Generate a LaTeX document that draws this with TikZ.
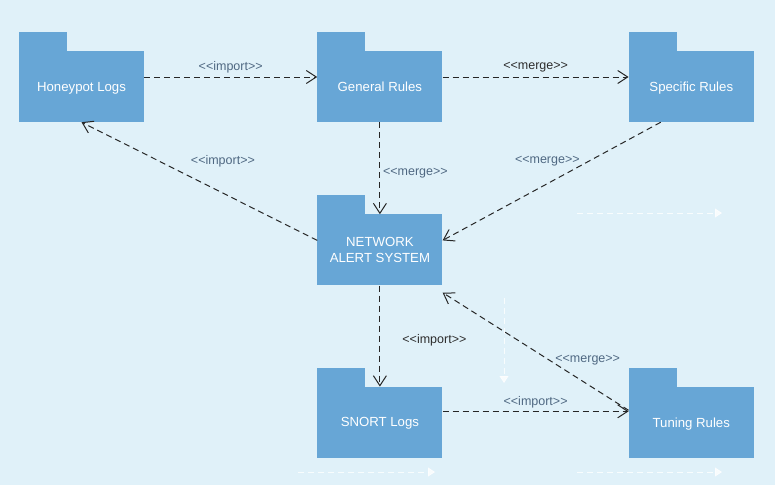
\documentclass[tikz,border=0pt]{standalone}
\usepackage{fontspec}
\setmainfont{Liberation Sans}
\usetikzlibrary{arrows.meta,positioning}
\definecolor{bgblue}{RGB}{224,241,249}
\definecolor{pkgblue}{RGB}{103,166,214}
\definecolor{lblgray}{RGB}{79,104,130}
\definecolor{lbldark}{RGB}{45,45,45}
\newcommand{\stereo}[1]{<\kern0pt<#1>\kern0pt>}
\tikzstyle{pkg}=[rectangle, fill=pkgblue, text=white, minimum width=125pt, minimum height=71pt, inner sep=0pt, text depth=0pt, align=center, font=\fontsize{13.2}{16}\selectfont]
\tikzstyle{dep}=[draw=black!85, line width=1pt, dash pattern=on 6pt off 4pt, -{Straight Barb[length=10pt,width=13pt]}]
\tikzstyle{lbl}=[text=lblgray, font=\fontsize{12.5}{14}\selectfont, inner sep=1pt]
\tikzstyle{ghost}=[draw=white, line width=0.8pt, dash pattern=on 6pt off 4pt, -{Triangle[length=7pt,width=9pt]}, opacity=0.8]

\begin{document}
\begin{tikzpicture}
[x=1pt, y=-1pt, node distance=173pt]
 \fill[bgblue] (0,0) rectangle (775,485);
 \node[pkg] (hp) at (81.5,86.5) {Honeypot Logs};
 \node[pkg] (gr) [right=173pt of hp] {General Rules};
 \node[pkg] (sr) [right=186pt of gr] {Specific Rules};
 \node[pkg] (nas) [below=92pt of gr] {NETWORK\\ALERT SYSTEM};
 \node[pkg] (sn) [below=101pt of nas] {SNORT Logs};
 \node[pkg] (tr) [right=186pt of sn] {Tuning Rules};
 % folder tabs
 \foreach \n in {hp,gr,sr,nas,sn,tr}
   \fill[pkgblue] (\n.north west) rectangle ++(48,-19);
 \path[]
   ([yshift=9.5pt]hp.east) edge[dep] node[lbl, midway, yshift=10pt] {\stereo{import}} ([yshift=9.5pt]gr.west)
   ([yshift=9.5pt]gr.east) edge[dep] node[lbl, text=lbldark, midway, yshift=10pt] {\stereo{merge}} ([yshift=9.5pt]sr.west)
   ([yshift=9.5pt]nas.west) edge[dep] node[lbl, pos=0.4, yshift=32pt] {\stereo{import}} (hp.south)
   (gr.south) edge[dep] node[lbl, midway, xshift=35.5pt, yshift=-5pt] {\stereo{merge}} (nas.north)
   ([xshift=-30.5pt]sr.south) edge[dep] node[lbl, pos=0.52, yshift=23pt] {\stereo{merge}} ([yshift=9.5pt]nas.east)
   (nas.south) edge[dep] node[lbl, text=lbldark, midway, xshift=54.5pt, yshift=-4.5pt] {\stereo{import}} (sn.north)
   ([yshift=12pt]tr.west) edge[dep] node[lbl, pos=0.22, yshift=24pt] {\stereo{merge}} ([yshift=-7pt]nas.south east)
   ([yshift=11pt]sn.east) edge[dep] node[lbl, midway, yshift=9pt] {\stereo{import}} ([yshift=11pt]tr.west);
 % faint white arrows
 \coordinate (g1s) at (577,213);
 \coordinate (g1e) at (722,213);
 \coordinate (g2s) at (504,298);
 \coordinate (g2e) at (504,383);
 \coordinate (g3s) at (298,472);
 \coordinate (g3e) at (435,472);
 \coordinate (g4s) at (577,472);
 \coordinate (g4e) at (722,472);
 \path[]
   (g1s) edge[ghost] (g1e)
   (g2s) edge[ghost] (g2e)
   (g3s) edge[ghost] (g3e)
   (g4s) edge[ghost] (g4e);
\end{tikzpicture}
\end{document}
